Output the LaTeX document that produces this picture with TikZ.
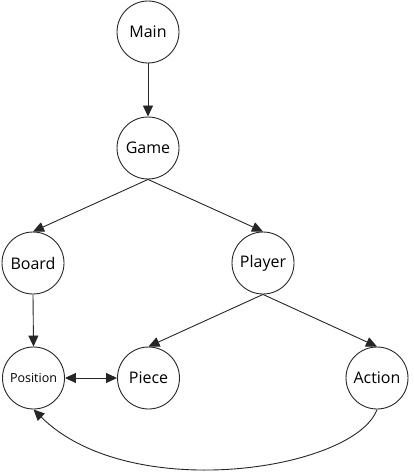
\documentclass[tikz,border=0pt]{standalone}
\usepackage{fontspec}
\setmainfont{Open Sans}
\usetikzlibrary{arrows.meta}
\begin{document}
\begin{tikzpicture}[x=1pt,y=-1pt,
  cls/.style={circle,draw=black!85,line width=0.9pt,minimum size=62pt,inner sep=0pt,font=\fontsize{16}{18}\selectfont},
  small/.style={font=\fontsize{12.5}{14}\selectfont},
  link/.style={draw=black!85,line width=0.9pt,-{Triangle[length=11pt,width=10pt]}},
  both/.style={draw=black!85,line width=0.9pt,{Triangle[length=11pt,width=10pt]}-{Triangle[length=11pt,width=10pt]}}]
\useasboundingbox (0,0) rectangle (413,473);
\node[cls] (main) at (148,32) {Main};
\node[cls] (game) at (148,148) {Game};
\node[cls] (board) at (33,263) {Board};
\node[cls] (player) at (263,263) {Player};
\node[cls,small] (position) at (33.5,378) {Position};
\node[cls] (piece) at (148.5,378) {Piece};
\node[cls] (action) at (377,378) {Action};
\draw[link] (main.south) -- (game.north);
\draw[link] (game.south) -- (board.north);
\draw[link] (game.south) -- (player.north);
\draw[link] (board.south) -- (position.north);
\draw[link] (player.south) -- (piece.north);
\draw[link] (player.south) -- (action.north);
\draw[both] (position.east) -- (piece.west);
\draw[link] (action.south) .. controls (355,470) and (130,505) .. (position.south);
\end{tikzpicture}
\end{document}
